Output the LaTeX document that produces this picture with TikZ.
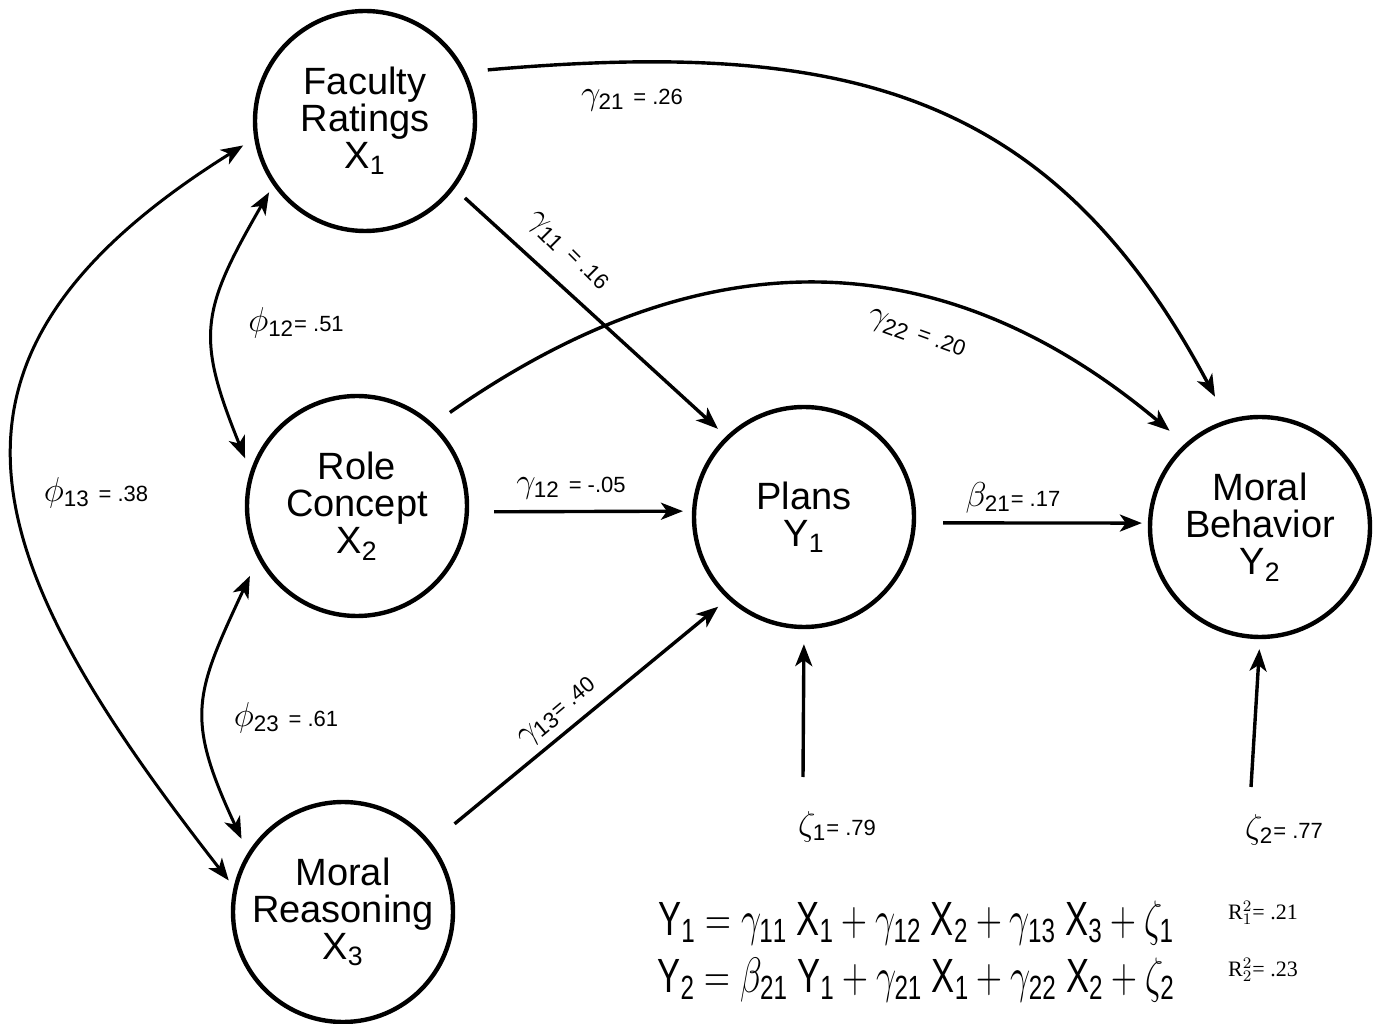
\documentclass[tikz,border=0pt]{standalone}
\usepackage{fontspec}
\setmainfont{Liberation Sans}
\setsansfont{Liberation Sans}
\newfontfamily\rfont{Liberation Serif}
\usepackage{graphicx}
\usepackage{tikz}
\usetikzlibrary{arrows.meta}
\newcommand\coefv[1]{{\fontsize{11}{12}\selectfont #1}}

\begin{document}
\begin{tikzpicture}[x=0.5pt,y=0.5pt,>={Stealth[length=11pt,width=8.5pt,inset=3pt]},
  latent/.style={draw,line width=2.2pt,circle,minimum size=110pt,inner sep=0pt,align=center,font=\fontsize{19}{18.5}\selectfont},
  arr/.style={->,line width=1.7pt},
  corr/.style={<->,line width=1.5pt},
  coef/.style={font=\fontsize{16}{18}\selectfont,inner sep=0pt},
  eqn/.style={font=\fontsize{24}{26}\selectfont,inner sep=0pt},
  rsq/.style={font=\fontsize{11}{12}\rfont,inner sep=0pt}]
\useasboundingbox (0,0) rectangle (1375,1023);
\node[latent] (x1) at (365,902) {Faculty\\Ratings\\X\textsubscript{1}};
\node[latent] (x2) at (357,517) {Role\\Concept\\X\textsubscript{2}};
\node[latent] (x3) at (343,111) {Moral\\Reasoning\\X\textsubscript{3}};
\node[latent] (y1) at (804,506) {Plans\\Y\textsubscript{1}};
\node[latent] (y2) at (1260,496) {Moral\\Behavior\\Y\textsubscript{2}};
\coordinate (z1) at (803,246);
\coordinate (z2) at (1251,236);

\draw[arr,shorten <=11pt,shorten >=13pt] (x1.26) to[out=5,in=118,looseness=1.15] (y2.107);
\draw[arr,shorten <=7pt,shorten >=5.5pt] (x1.-37) -- (y1.134);
\draw[arr,shorten <=10pt,shorten >=10pt] (x2.47) to[out=35,in=140,looseness=1.1] (y2.132);
\draw[arr,shorten <=12.5pt,shorten >=4.5pt] (x2.-3) -- (y1.177);
\draw[arr,shorten <=15pt,shorten >=6pt] (x3.38) -- (y1.227);
\draw[arr,shorten <=13.5pt,shorten >=3pt] (y1.-3) -- (y2.178);
\draw[arr,shorten >=7.5pt] (z1) -- (y1.south); \draw[arr,shorten >=5pt] (z2) -- (y2.south);
\draw[corr,shorten <=4pt,shorten >=7pt] (x1.215) to[out=240,in=112,looseness=1.3] (x2.162);
\draw[corr,shorten <=9.5pt,shorten >=7.5pt] (x2.208) to[out=245,in=115,looseness=1.3] (x3.148);
\draw[corr,shorten <=6.5pt,shorten >=4pt] (x1.189) to[out=212,in=128,looseness=1.42] (x3.167);

\node[coef] (g21) at (632,923) {$\gamma_{\mathsf{21}}$ \coefv{= .26}};
\node[coef,rotate=-45] (g11) at (567,771) {$\gamma_{\mathsf{11}}$ \coefv{= .16}};
\node[coef] (f12) at (296,700) {$\phi_{\mathsf{12}}$\coefv{= .51}};
\node[coef] (f13) at (96,530) {$\phi_{\mathsf{13}}$ \coefv{= .38}};
\node[coef] (g12) at (571,535) {$\gamma_{\mathsf{12}}$ \coefv{= -.05}};
\node[coef,rotate=-20] (g22) at (916,688) {$\gamma_{\mathsf{22}}$ \coefv{= .20}};
\node[coef] (b21) at (1013,525) {$\beta_{\mathsf{21}}$\coefv{= .17}};
\node[coef] (f23) at (286,305) {$\phi_{\mathsf{23}}$ \coefv{= .61}};
\node[coef,rotate=40] (g13) at (558,310) {$\gamma_{\mathsf{13}}$\coefv{= .40}};
\node[coef] (e1) at (837,196) {$\zeta_{\mathsf{1}}$\coefv{= .79}};
\node[coef] (e2) at (1284,193) {$\zeta_{\mathsf{2}}$\coefv{= .77}};

\node[eqn] (eq1) at (916,100) {\scalebox{0.72}[1]{$\mathsf{Y}_{\mathsf{1}} = \gamma_{\mathsf{11}}\ \mathsf{X}_{\mathsf{1}} + \gamma_{\mathsf{12}}\ \mathsf{X}_{\mathsf{2}} + \gamma_{\mathsf{13}}\ \mathsf{X}_{\mathsf{3}} + \zeta_{\mathsf{1}}$}};
\node[eqn] (eq2) at (916,43) {\scalebox{0.72}[1]{$\mathsf{Y}_{\mathsf{2}} = \beta_{\mathsf{21}}\ \mathsf{Y}_{\mathsf{1}} + \gamma_{\mathsf{21}}\ \mathsf{X}_{\mathsf{1}} + \gamma_{\mathsf{22}}\ \mathsf{X}_{\mathsf{2}} + \zeta_{\mathsf{2}}$}};
\node[rsq] (r1) at (1263,110) {R$^2_1$= .21};
\node[rsq] (r2) at (1263,53) {R$^2_2$= .23};
\end{tikzpicture}
\end{document}
